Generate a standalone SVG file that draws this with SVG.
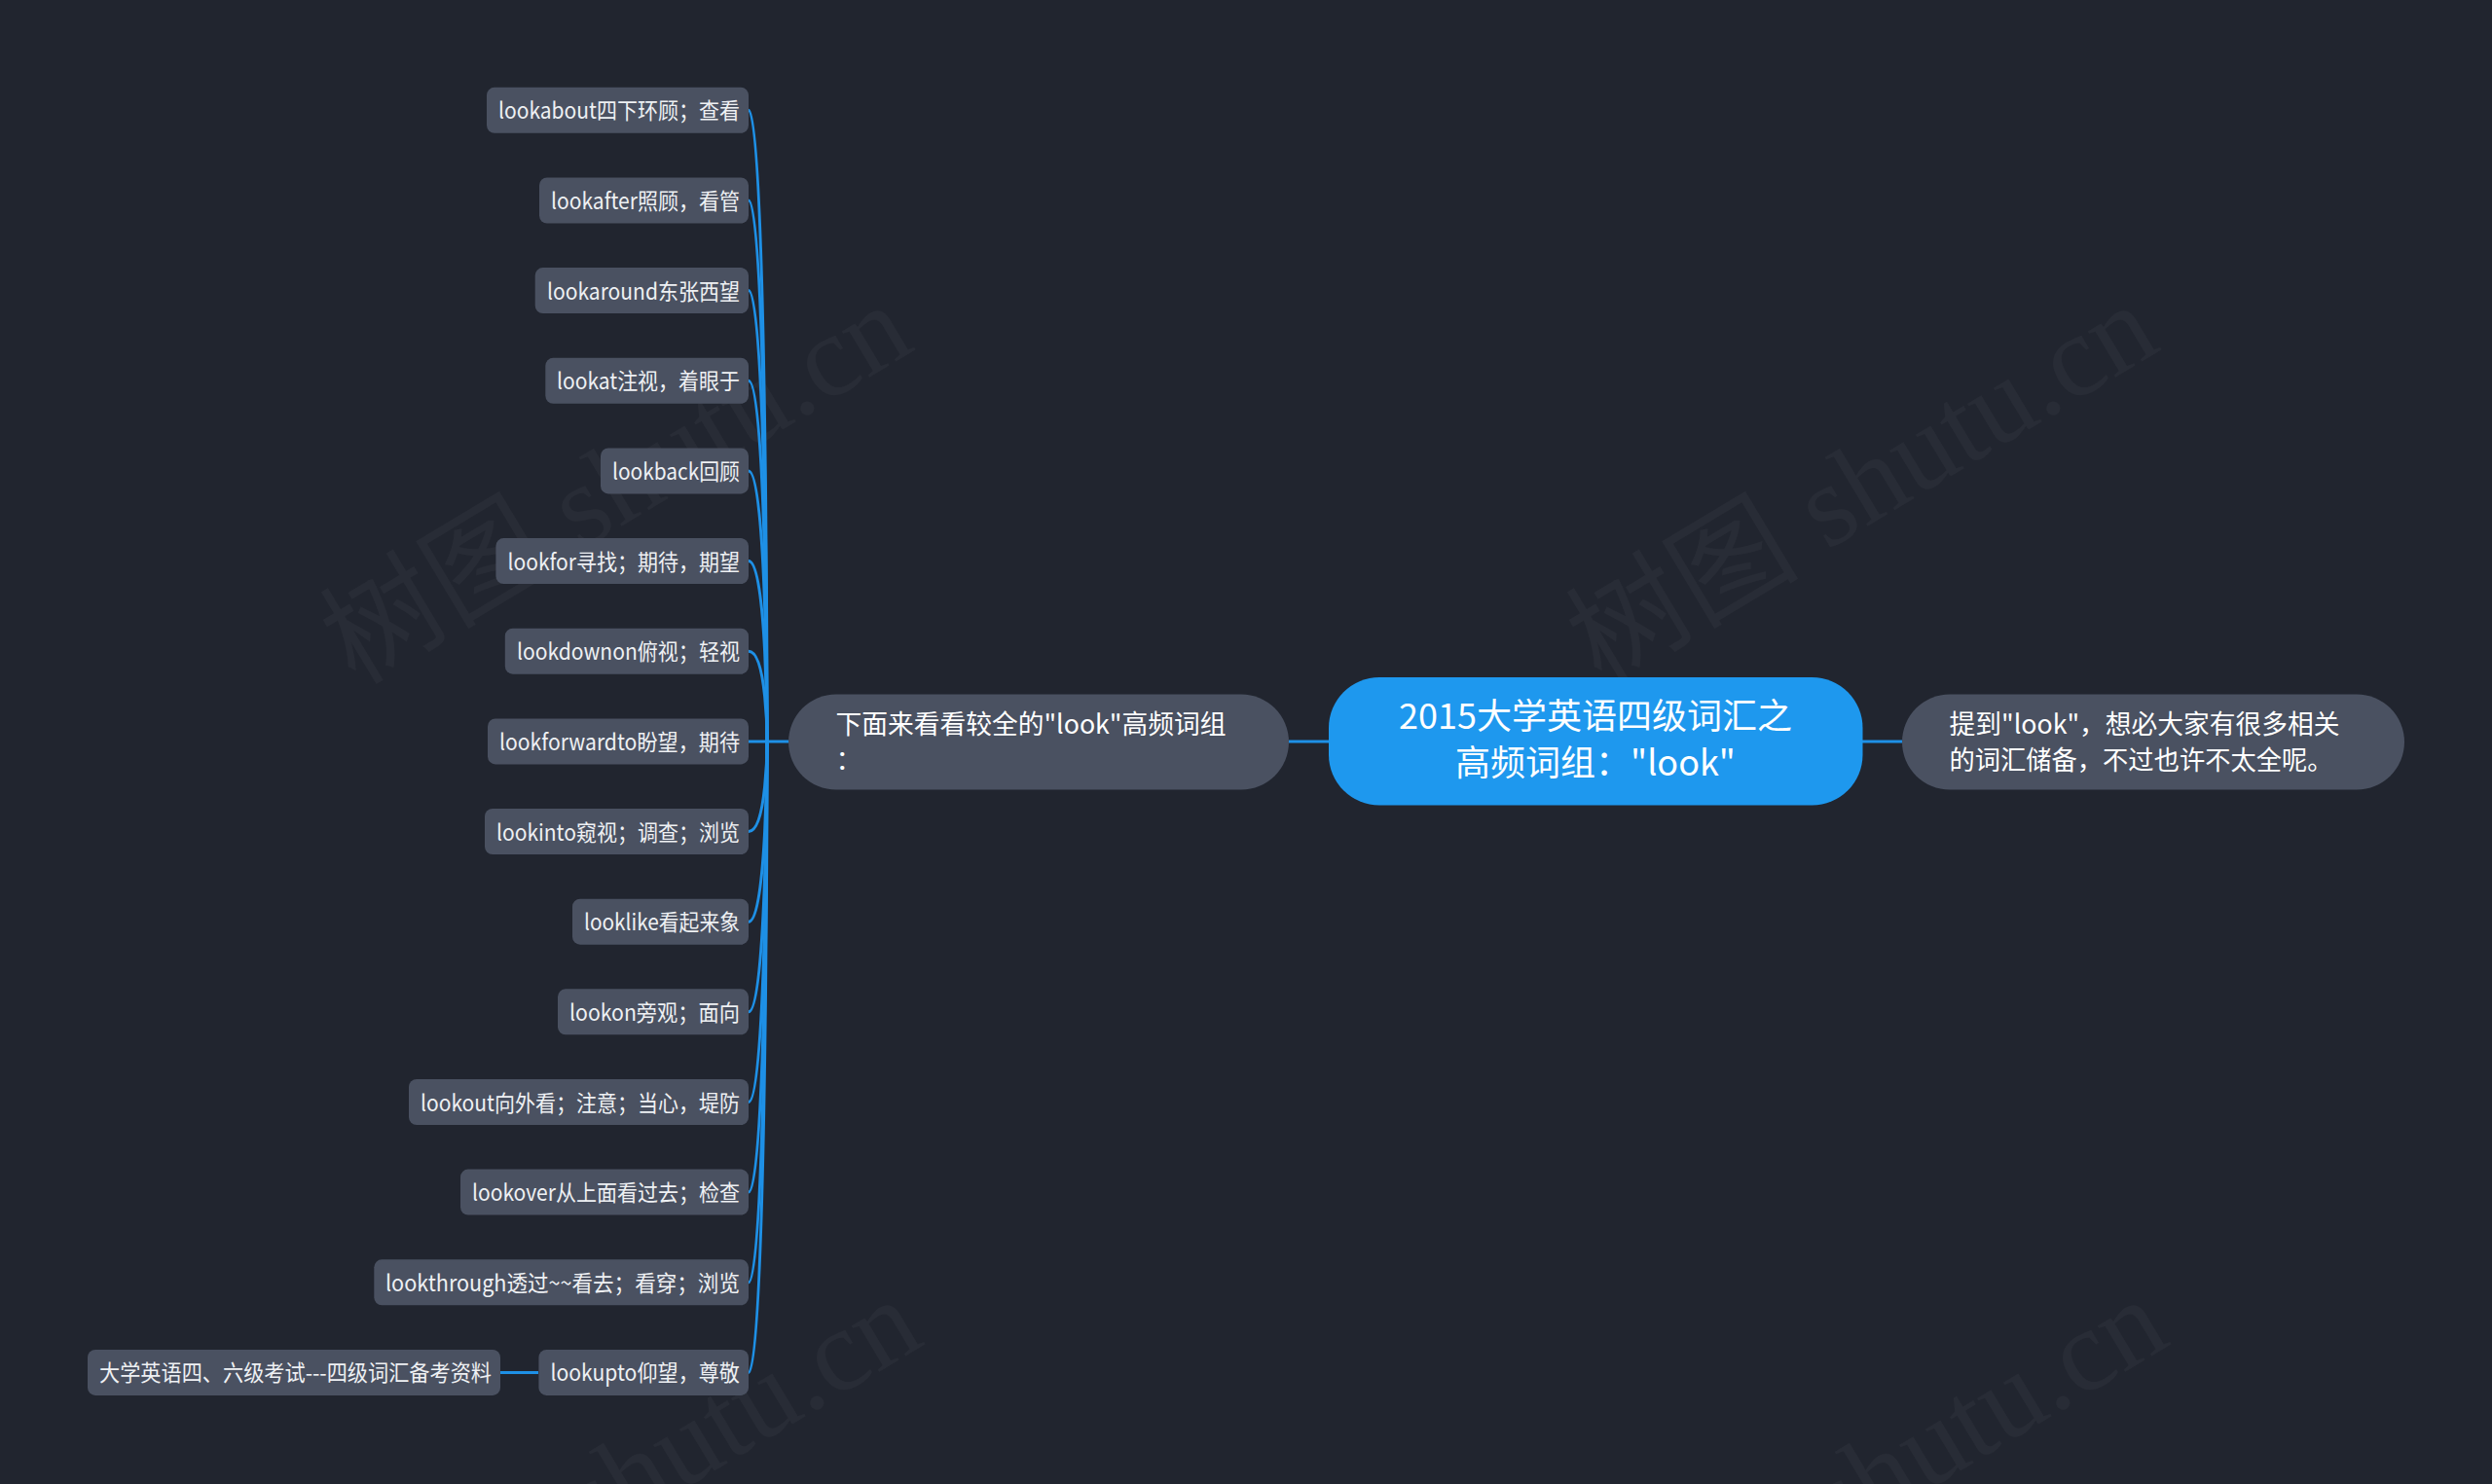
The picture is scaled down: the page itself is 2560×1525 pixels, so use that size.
<svg xmlns="http://www.w3.org/2000/svg" width="2560" height="1525" viewBox="0 0 2560 1525">
<style>
.bg{fill:#21252f}
.wm{font-family:"Liberation Serif","Noto Sans CJK SC",serif;font-size:120px;fill:#ffffff;fill-opacity:0.035}
.leaf rect{fill:#4a5161}
.leaf text{font-family:"Noto Sans CJK SC","Microsoft YaHei",sans-serif;font-size:23px;fill:#eef0f3;text-anchor:end}
.sub rect{fill:#4a5161}
.sub text{font-family:"Noto Sans CJK SC",sans-serif;font-size:27px;fill:#ffffff}
.root rect{fill:#1e98ee}
.root text{font-family:"Noto Sans CJK SC",sans-serif;font-size:36px;fill:#ffffff;text-anchor:middle}
.conn path,.conn line{fill:none;stroke:#1e90e6;stroke-width:3}
</style>
<rect class="bg" x="0" y="0" width="2560" height="1525"/>
<g id="watermarks">
<text class="wm" transform="translate(365,705) rotate(-31)">树图 shutu.cn</text>
<text class="wm" transform="translate(1645,705) rotate(-31)">树图 shutu.cn</text>
<text class="wm" transform="translate(375,1727) rotate(-31)">树图 shutu.cn</text>
<text class="wm" transform="translate(1655,1727) rotate(-31)">树图 shutu.cn</text>
</g>
<g id="connectors" class="conn">
<line x1="1324" y1="762" x2="1365" y2="762"/>
<line x1="1913" y1="762" x2="1954" y2="762"/>
<line x1="788" y1="762" x2="810" y2="762"/>
<line x1="514" y1="1410.4" x2="553" y2="1410.4"/>
<path d="M769 113.3 C788 113.3 788 762 788 762"/>
<path d="M769 206 C788 206 788 762 788 762"/>
<path d="M769 298.6 C788 298.6 788 762 788 762"/>
<path d="M769 391.3 C788 391.3 788 762 788 762"/>
<path d="M769 483.9 C788 483.9 788 762 788 762"/>
<path d="M769 576.6 C788 576.6 788 762 788 762"/>
<path d="M769 669.2 C788 669.2 788 762 788 762"/>
<path d="M769 762 L788 762"/>
<path d="M769 854.5 C788 854.5 788 762 788 762"/>
<path d="M769 947.2 C788 947.2 788 762 788 762"/>
<path d="M769 1039.8 C788 1039.8 788 762 788 762"/>
<path d="M769 1132.5 C788 1132.5 788 762 788 762"/>
<path d="M769 1225.1 C788 1225.1 788 762 788 762"/>
<path d="M769 1317.8 C788 1317.8 788 762 788 762"/>
<path d="M769 1410.4 C788 1410.4 788 762 788 762"/>
</g>
<g id="root" class="root">
<rect x="1365" y="696" width="548.5" height="131.5" rx="52"/>
<text x="1639" y="749">2015大学英语四级词汇之</text>
<text x="1639" y="797">高频词组："look"</text>
</g>
<g id="sub-left" class="sub">
<rect x="810" y="713.5" width="514" height="98" rx="49"/>
<text x="858.5" y="753.5" textLength="401" lengthAdjust="spacingAndGlyphs">下面来看看较全的"look"高频词组</text>
<text x="858.5" y="790.5">：</text>
</g>
<g id="sub-right" class="sub">
<rect x="1954" y="713.5" width="516" height="98" rx="49"/>
<text x="2002.5" y="753.5" textLength="401" lengthAdjust="spacingAndGlyphs">提到"look"，想必大家有很多相关</text>
<text x="2002.5" y="790.5" textLength="394" lengthAdjust="spacingAndGlyphs">的词汇储备，不过也许不太全呢。</text>
</g>
<g id="leaf-0" class="leaf"><rect x="500" y="89.8" width="269" height="47" rx="8"/><text x="760" y="122.3" textLength="248" lengthAdjust="spacingAndGlyphs">lookabout四下环顾；查看</text></g>
<g id="leaf-1" class="leaf"><rect x="554" y="182.5" width="215" height="47" rx="8"/><text x="760" y="215" textLength="194" lengthAdjust="spacingAndGlyphs">lookafter照顾，看管</text></g>
<g id="leaf-2" class="leaf"><rect x="549.7" y="275.1" width="219.3" height="47" rx="8"/><text x="760" y="307.6" textLength="198" lengthAdjust="spacingAndGlyphs">lookaround东张西望</text></g>
<g id="leaf-3" class="leaf"><rect x="560.3" y="367.8" width="208.7" height="47" rx="8"/><text x="760" y="400.3" textLength="188" lengthAdjust="spacingAndGlyphs">lookat注视，着眼于</text></g>
<g id="leaf-4" class="leaf"><rect x="617" y="460.4" width="152" height="47" rx="8"/><text x="760" y="492.9" textLength="131" lengthAdjust="spacingAndGlyphs">lookback回顾</text></g>
<g id="leaf-5" class="leaf"><rect x="509.4" y="553.1" width="259.6" height="47" rx="8"/><text x="760" y="585.6" textLength="238.5" lengthAdjust="spacingAndGlyphs">lookfor寻找；期待，期望</text></g>
<g id="leaf-6" class="leaf"><rect x="518.8" y="645.7" width="250.2" height="47" rx="8"/><text x="760" y="678.2" textLength="229" lengthAdjust="spacingAndGlyphs">lookdownon俯视；轻视</text></g>
<g id="leaf-7" class="leaf"><rect x="501" y="738.4" width="268" height="47" rx="8"/><text x="760" y="770.9" textLength="247" lengthAdjust="spacingAndGlyphs">lookforwardto盼望，期待</text></g>
<g id="leaf-8" class="leaf"><rect x="498" y="831" width="271" height="47" rx="8"/><text x="760" y="863.5" textLength="250" lengthAdjust="spacingAndGlyphs">lookinto窥视；调查；浏览</text></g>
<g id="leaf-9" class="leaf"><rect x="588" y="923.7" width="181" height="47" rx="8"/><text x="760" y="956.2" textLength="160" lengthAdjust="spacingAndGlyphs">looklike看起来象</text></g>
<g id="leaf-10" class="leaf"><rect x="573" y="1016.3" width="196" height="47" rx="8"/><text x="760" y="1048.8" textLength="175" lengthAdjust="spacingAndGlyphs">lookon旁观；面向</text></g>
<g id="leaf-11" class="leaf"><rect x="420" y="1109" width="349" height="47" rx="8"/><text x="760" y="1141.5" textLength="328" lengthAdjust="spacingAndGlyphs">lookout向外看；注意；当心，堤防</text></g>
<g id="leaf-12" class="leaf"><rect x="473" y="1201.6" width="296" height="47" rx="8"/><text x="760" y="1234.1" textLength="275" lengthAdjust="spacingAndGlyphs">lookover从上面看过去；检查</text></g>
<g id="leaf-13" class="leaf"><rect x="384.3" y="1294.3" width="384.7" height="47" rx="8"/><text x="760" y="1326.8" textLength="364" lengthAdjust="spacingAndGlyphs">lookthrough透过~~看去；看穿；浏览</text></g>
<g id="leaf-14" class="leaf"><rect x="553.4" y="1386.9" width="215.6" height="47" rx="8"/><text x="760" y="1419.4" textLength="194.5" lengthAdjust="spacingAndGlyphs">lookupto仰望，尊敬</text></g>
<g id="leaf-15" class="leaf"><rect x="90" y="1386.9" width="424" height="47" rx="8"/><text x="505" y="1419.4" textLength="403" lengthAdjust="spacingAndGlyphs">大学英语四、六级考试---四级词汇备考资料</text></g>
</svg>
